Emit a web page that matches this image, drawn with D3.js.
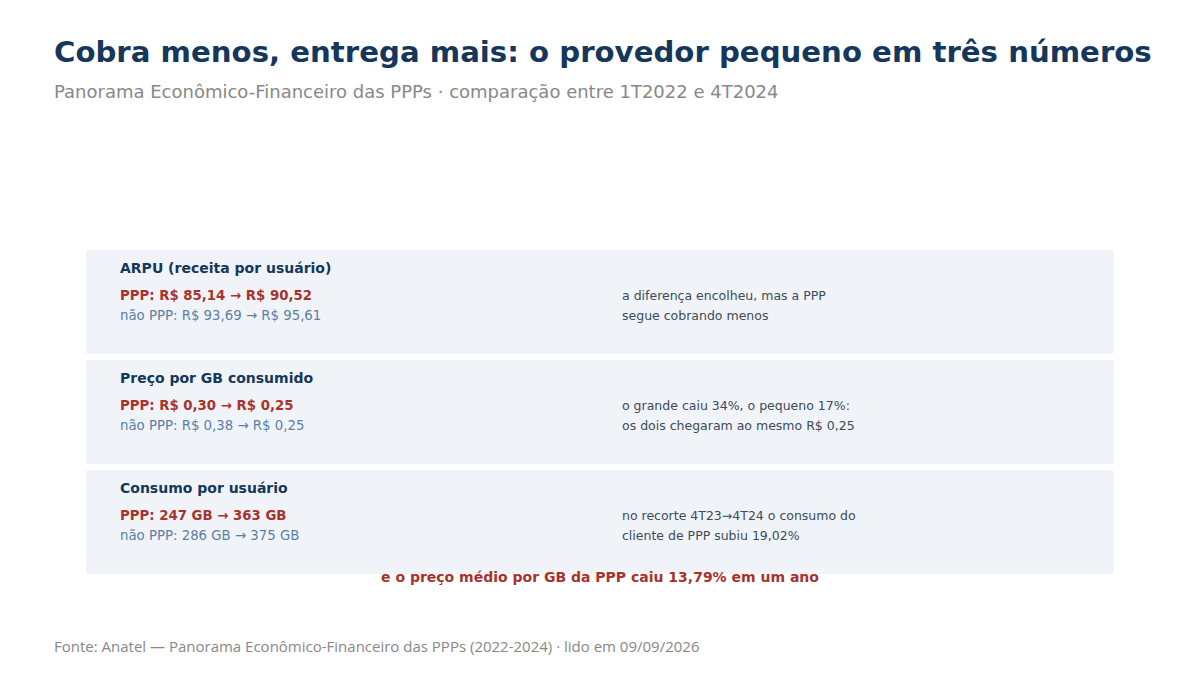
<!DOCTYPE html>
<html><head><meta charset="utf-8">
<script src="https://cdn.jsdelivr.net/npm/d3@7"></script>
<style>body{margin:0;background:#fff}</style>
</head><body><div id="chart"></div>
<script>
'use strict';
const metrics = ['ARPU (receita por usuário)', 'Preço por GB consumido', 'Consumo por usuário'];
const pppLines = ['PPP: R$ 85,14 → R$ 90,52', 'PPP: R$ 0,30 → R$ 0,25', 'PPP: 247 GB → 363 GB'];
const naoPppLines = ['não PPP: R$ 93,69 → R$ 95,61', 'não PPP: R$ 0,38 → R$ 0,25', 'não PPP: 286 GB → 375 GB'];
const notes = [
    ['a diferença encolheu, mas a PPP', 'segue cobrando menos'],
    ['o grande caiu 34%, o pequeno 17%:', 'os dois chegaram ao mesmo R$ 0,25'],
    ['no recorte 4T23→4T24 o consumo do', 'cliente de PPP subiu 19,02%']
];

const W = 1200, H = 675;
const svg = d3.select('#chart').append('svg').attr('width', W).attr('height', H);

svg.append('text').attr('x', 54).attr('y', 62)
    .style('font', 'bold 29.2px "DejaVu Sans"').style('fill', '#15375c')
    .text('Cobra menos, entrega mais: o provedor pequeno em três números');
svg.append('text').attr('x', 54).attr('y', 98)
    .style('font', '18px "DejaVu Sans"').style('fill', '#888')
    .text('Panorama Econômico-Financeiro das PPPs · comparação entre 1T2022 e 4T2024');

const y = d3.scaleBand().domain(metrics).range([250, 574]).paddingInner(6 / 110).paddingOuter(0);

const card = svg.selectAll('g.card').data(metrics).enter().append('g')
    .attr('transform', d => `translate(0,${y(d)})`);

card.append('rect').attr('x', 86).attr('width', 1028).attr('height', y.bandwidth())
    .attr('rx', 3).style('fill', '#f0f4f8');
card.append('text').attr('x', 120).attr('y', 23)
    .style('font', 'bold 14px "DejaVu Sans"').style('fill', '#15375c').text(d => d);
card.append('text').attr('x', 120).attr('y', 50)
    .style('font', 'bold 13.3px "DejaVu Sans"').style('fill', '#a8322d').text((d, i) => pppLines[i]);
card.append('text').attr('x', 120).attr('y', 70)
    .style('font', '13.3px "DejaVu Sans"').style('fill', '#5b7fa8').text((d, i) => naoPppLines[i]);
card.each(function (d, i) {
    d3.select(this).selectAll('text.note').data(notes[i]).enter().append('text')
        .attr('x', 622).attr('y', (t, j) => 50 + j * 20)
        .style('font', '12.5px "DejaVu Sans"').style('fill', '#3d4a5a').text(t => t);
});

svg.append('text').attr('x', 600).attr('y', 582).attr('text-anchor', 'middle')
    .style('font', 'bold 14px "DejaVu Sans"').style('fill', '#a8322d')
    .text('e o preço médio por GB da PPP caiu 13,79% em um ano');

svg.append('text').attr('x', 54).attr('y', 652)
    .style('font', '15px "Open Sans"').style('fill', '#888')
    .text('Fonte: Anatel — Panorama Econômico-Financeiro das PPPs (2022-2024) · lido em 09/09/2026');
</script></body></html>
